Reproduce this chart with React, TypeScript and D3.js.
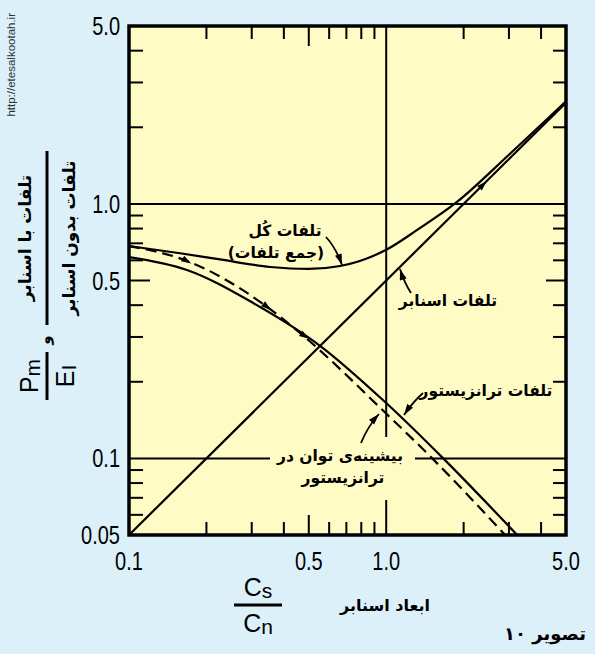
import React, { useEffect, useRef } from "react";
import * as d3 from "d3";

const W = 595;
const H = 654;

// snubber size Cs/Cn on x, loss ratio on y
const snubberX = [0.1, 5];
const snubberLoss = [0.05, 2.5];

const transX = [0.1, 0.168, 0.304, 0.553, 1.0, 1.666, 3.23];
const transLoss = [0.618, 0.55, 0.408, 0.277, 0.165, 0.1, 0.05];

const peakX = [0.1, 0.168, 0.344, 0.462, 1.0, 1.51, 2.9];
const peakPower = [0.683, 0.597, 0.394, 0.311, 0.15, 0.1, 0.05];

const totalX = [0.1, 0.158, 0.226, 0.354, 0.5, 0.662, 1.0, 1.32, 1.89, 3.0, 5.0];
const totalLoss = [0.683, 0.64, 0.605, 0.565, 0.555, 0.57, 0.66, 0.79, 1.02, 1.56, 2.53];

const xTickLabels = ["0.1", "0.5", "1.0", "5.0"];
const yTickLabels = ["5.0", "1.0", "0.5", "0.1", "0.05"];
const xMinor = [0.2, 0.3, 0.4, 0.6, 0.7, 0.8, 0.9, 2, 3, 4];
const yMinor = [4, 3, 2, 0.9, 0.8, 0.7, 0.6, 0.4, 0.3, 0.2, 0.09, 0.08, 0.07, 0.06];

// little direction arrows sitting on the curves
const curveArrowSeries = ["peak", "peak", "trans", "snub"];
const curveArrowX = [0.168, 0.344, 0.483, 2.38];

const BG = "#dcf0f9";
const PLOT = "#fffbc4";
const FA = "'DejaVu Sans', sans-serif";
const NUM = "'Liberation Sans', Arial, sans-serif";

const App = () => {
  const svgRef = useRef(null);

  useEffect(() => {
    const svg = d3.select(svgRef.current);
    svg.selectAll("*").remove();

    const x = d3.scaleLog().domain([0.1, 5]).range([129, 566]);
    const y = d3.scaleLog().domain([0.05, 5]).range([535, 26]);
    const [x0, x1] = x.range();
    const [y0, y1] = y.range();

    svg.append("rect").attr("width", W).attr("height", H).attr("fill", BG);
    svg.append("rect")
      .attr("x", x0).attr("y", y1)
      .attr("width", x1 - x0).attr("height", y0 - y1)
      .attr("fill", PLOT);

    svg.append("defs").append("clipPath").attr("id", "plotclip")
      .append("rect").attr("x", x0).attr("y", y1)
      .attr("width", x1 - x0).attr("height", y0 - y1);

    const g = svg.append("g");

    // reference lines at 1.0
    g.append("line").attr("x1", x0).attr("x2", x1)
      .attr("y1", y(1)).attr("y2", y(1))
      .attr("stroke", "#000").attr("stroke-width", 2);
    g.append("line").attr("x1", x(1)).attr("x2", x(1))
      .attr("y1", y1).attr("y2", 437)
      .attr("stroke", "#000").attr("stroke-width", 2);
    g.append("line").attr("x1", x(1)).attr("x2", x(1))
      .attr("y1", 500).attr("y2", y0)
      .attr("stroke", "#000").attr("stroke-width", 2);
    // 0.1 line, broken for the label
    g.append("line").attr("x1", x0).attr("x2", 270)
      .attr("y1", y(0.1)).attr("y2", y(0.1))
      .attr("stroke", "#000").attr("stroke-width", 2);
    g.append("line").attr("x1", 415).attr("x2", x1)
      .attr("y1", y(0.1)).attr("y2", y(0.1))
      .attr("stroke", "#000").attr("stroke-width", 2);

    // ticks, drawn inward on every side
    const tk = (v: number) => (v === 0.5 ? 20 : 13);
    const ticks = g.append("g").attr("stroke", "#000").attr("stroke-width", 2);
    [...xMinor, 0.5].forEach((v) => {
      ticks.append("line").attr("x1", x(v)).attr("x2", x(v)).attr("y1", y1).attr("y2", y1 + tk(v));
      ticks.append("line").attr("x1", x(v)).attr("x2", x(v)).attr("y1", y0).attr("y2", y0 - tk(v));
    });
    [...yMinor, 0.5].forEach((v) => {
      ticks.append("line").attr("y1", y(v)).attr("y2", y(v)).attr("x1", x0).attr("x2", x0 + tk(v) + 1);
      ticks.append("line").attr("y1", y(v)).attr("y2", y(v)).attr("x1", x1).attr("x2", x1 - tk(v));
    });

    const line = d3.line<[number, number]>()
      .x((d) => x(d[0]))
      .y((d) => y(d[1]))
      .curve(d3.curveMonotoneX);

    const series: Record<string, [number, number][]> = {
      snub: snubberX.map((v, i) => [v, snubberLoss[i]]),
      trans: transX.map((v, i) => [v, transLoss[i]]),
      peak: peakX.map((v, i) => [v, peakPower[i]]),
      total: totalX.map((v, i) => [v, totalLoss[i]]),
    };

    const curves = g.append("g").attr("clip-path", "url(#plotclip)")
      .attr("fill", "none").attr("stroke", "#000").attr("stroke-width", 2.2);
    curves.append("path").attr("d", line(series.snub));
    curves.append("path").attr("d", line(series.trans));
    curves.append("path").attr("d", line(series.total));
    curves.append("path").attr("d", line(series.peak)).attr("stroke-dasharray", "11 6");

    // small arrowheads on the curves
    const interp = (pts: [number, number][], xv: number) => {
      const lx = Math.log10(xv);
      for (let i = 0; i < pts.length - 1; i++) {
        const a = Math.log10(pts[i][0]);
        const b = Math.log10(pts[i + 1][0]);
        if (lx >= a && lx <= b) {
          const t = (lx - a) / (b - a);
          return Math.pow(10, Math.log10(pts[i][1]) + t * (Math.log10(pts[i + 1][1]) - Math.log10(pts[i][1])));
        }
      }
      return pts[pts.length - 1][1];
    };
    curveArrowX.forEach((xv, i) => {
      const pts = series[curveArrowSeries[i]];
      const px = x(xv);
      const py = y(interp(pts, xv));
      const qx = x(xv * 1.05);
      const qy = y(interp(pts, xv * 1.05));
      const ang = (Math.atan2(qy - py, qx - px) * 180) / Math.PI;
      g.append("path")
        .attr("d", "M5,0 L-5,-3.2 L-5,3.2 Z")
        .attr("fill", "#000")
        .attr("transform", `translate(${px},${py}) rotate(${ang})`);
    });

    // annotation arrows
    const arrow = (sx: number, sy: number, cx: number, cy: number, ex: number, ey: number) => {
      g.append("path")
        .attr("d", `M${sx},${sy} Q${cx},${cy} ${ex},${ey}`)
        .attr("fill", "none").attr("stroke", "#000").attr("stroke-width", 1.8);
      const ang = (Math.atan2(ey - cy, ex - cx) * 180) / Math.PI;
      g.append("path")
        .attr("d", "M0,0 L-11,-3.5 L-11,3.5 Z")
        .attr("fill", "#000")
        .attr("transform", `translate(${ex},${ey}) rotate(${ang})`);
    };
    arrow(326, 237, 336, 248, 342, 265);
    arrow(411, 293, 404, 282, 400, 269);
    arrow(423, 393, 412, 403, 404, 415);
    arrow(361, 443, 368, 426, 379, 414);

    const faText = (tx: number, ty: number, s: string, size = 15.5) =>
      g.append("text").attr("x", tx).attr("y", ty)
        .attr("text-anchor", "middle").attr("direction", "rtl")
        .attr("font-family", FA).attr("font-weight", "bold")
        .attr("font-size", size).attr("fill", "#000").text(s);

    faText(285, 236, "تلفات کُل");
    faText(276, 258, "(جمع تلفات)");
    faText(448, 306, "تلفات اسنابر");
    faText(486, 396, "تلفات ترانزیستور");
    faText(340, 461, "بیشینه\u200Cی توان در");
    faText(343, 483, "ترانزیستور");

    // frame
    g.append("rect").attr("x", x0).attr("y", y1)
      .attr("width", x1 - x0).attr("height", y0 - y1)
      .attr("fill", "none").attr("stroke", "#000").attr("stroke-width", 3.5);

    // tick labels (narrow, like the original figure's lettering)
    const num = (tx: number, ty: number, s: string, anchor: string) =>
      g.append("text")
        .attr("transform", `translate(${tx},${ty}) scale(0.8,1)`)
        .attr("text-anchor", anchor).attr("font-family", NUM)
        .attr("font-size", 25).attr("fill", "#000").text(s);
    [0.1, 0.5, 1, 5].forEach((v, i) => num(x(v), 570, xTickLabels[i], "middle"));
    [5, 1, 0.5, 0.1, 0.05].forEach((v, i) => num(120, y(v) + 9, yTickLabels[i], "end"));

    // x axis title
    const frac = (cx: number, cy: number, top: string, bot: string, rot: boolean) => {
      const f = g.append("g").attr("transform", `translate(${cx},${cy})${rot ? " rotate(-90)" : ""}`);
      const t1 = f.append("text").attr("x", 0).attr("y", -9).attr("text-anchor", "middle")
        .attr("font-family", NUM).attr("font-size", 25);
      t1.append("tspan").text(top[0]);
      t1.append("tspan").attr("font-size", 21).attr("dy", 2).text(top.slice(1));
      f.append("line").attr("x1", -24).attr("x2", 24).attr("y1", 0).attr("y2", 0)
        .attr("stroke", "#000").attr("stroke-width", 3);
      const t2 = f.append("text").attr("x", 0).attr("y", 27).attr("text-anchor", "middle")
        .attr("font-family", NUM).attr("font-size", 25);
      t2.append("tspan").text(bot[0]);
      t2.append("tspan").attr("font-size", 21).attr("dy", 2).text(bot.slice(1));
    };
    frac(258, 605, "Cs", "Cn", false);
    faText(385, 611, "ابعاد اسنابر", 16);
    faText(545, 640, "تصویر ۱۰", 18);

    // y axis title (rotated)
    frac(47, 376, "Pm", "EI", true);
    const yt = g.append("g").attr("transform", "translate(47,238) rotate(-90)");
    yt.append("text").attr("x", 0).attr("y", -16).attr("text-anchor", "middle")
      .attr("direction", "rtl").attr("font-family", FA).attr("font-weight", "bold")
      .attr("font-size", 17).text("تلفات با اسنابر");
    yt.append("line").attr("x1", -87).attr("x2", 87).attr("y1", 0).attr("y2", 0)
      .attr("stroke", "#000").attr("stroke-width", 3);
    yt.append("text").attr("x", 0).attr("y", 28).attr("text-anchor", "middle")
      .attr("direction", "rtl").attr("font-family", FA).attr("font-weight", "bold")
      .attr("font-size", 17).text("تلفات بدون اسنابر");
    g.append("text").attr("transform", "translate(50,340) rotate(-90)")
      .attr("text-anchor", "middle").attr("font-family", FA).attr("font-weight", "bold")
      .attr("font-size", 15).text("و");

    g.append("text").attr("transform", "translate(15,13) rotate(-90)")
      .attr("text-anchor", "end").attr("font-family", NUM)
      .attr("font-size", 11.5).attr("fill", "#333").text("http://etesalkootah.ir");
  }, []);

  return (
    <svg
      ref={svgRef}
      width={W}
      height={H}
      style={{ position: "absolute", left: 0, top: 0, display: "block" }}
    />
  );
};

export default App;
